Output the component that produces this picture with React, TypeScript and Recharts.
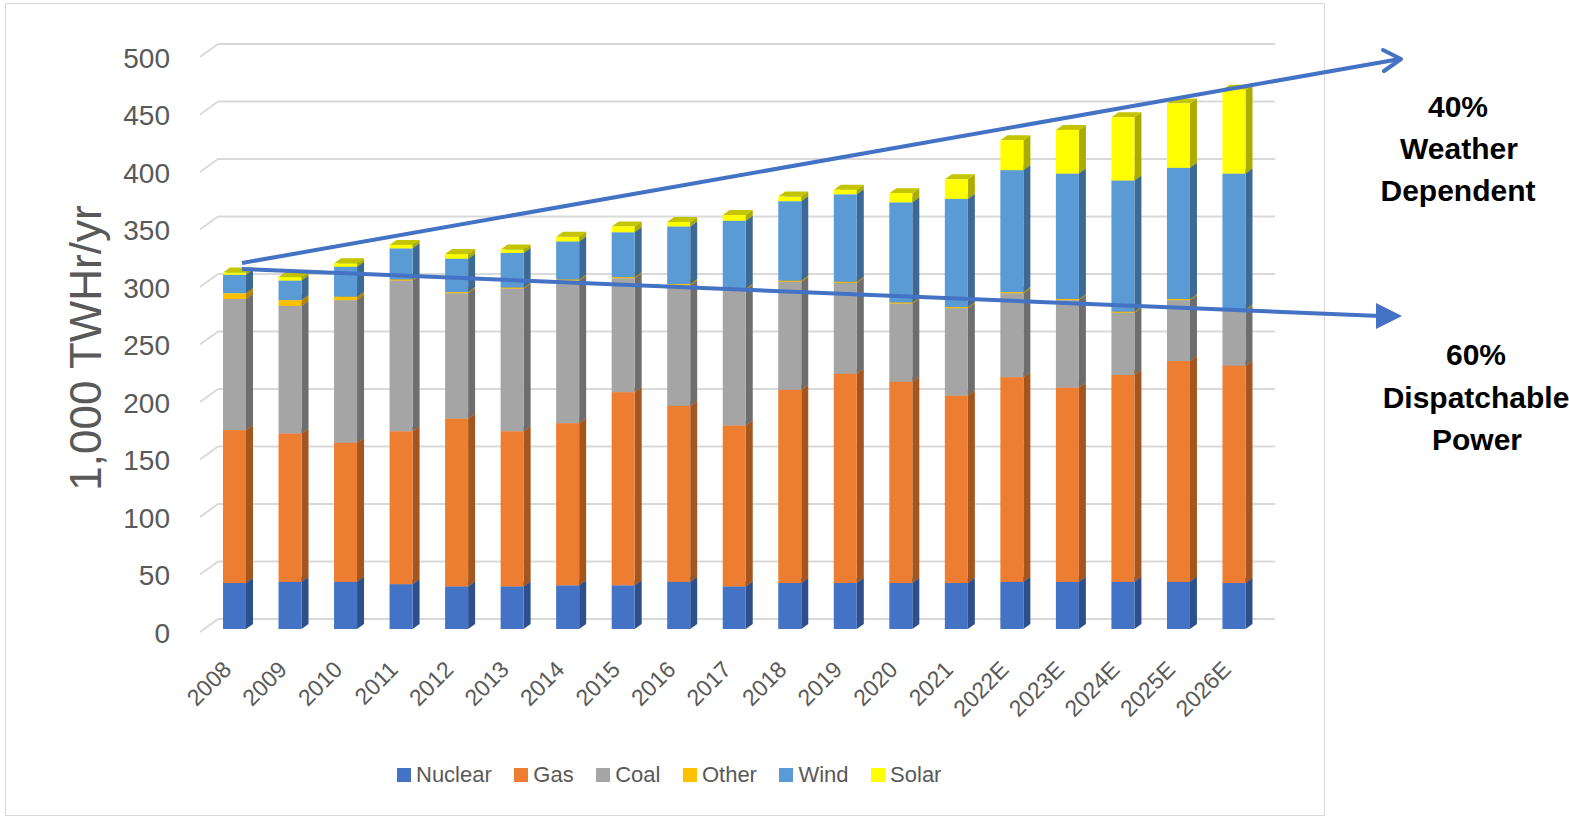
import React from "react";
import { BarChart, Bar, XAxis, YAxis, CartesianGrid } from "recharts";

const years = [
  "2008", "2009", "2010", "2011", "2012", "2013", "2014", "2015", "2016", "2017",
  "2018", "2019", "2020", "2021", "2022E", "2023E", "2024E", "2025E", "2026E",
];
const nuclear = [40, 41, 41, 39, 37, 37, 38, 38, 41, 37, 40, 40, 40, 40, 41, 41, 41, 41, 40];
const gas = [133, 129, 121, 133, 146, 135, 141, 168, 153, 140, 168, 182, 175, 163, 178, 169, 180, 192, 189];
const coal = [114, 111, 124, 131, 109, 124, 124, 99, 105, 118, 94, 79, 68, 76, 73, 76, 54, 53, 48];
const other = [5, 5, 3, 1, 1, 1, 1, 1, 1, 1, 1, 1, 1, 1, 1, 1, 1, 1, 1];
const wind = [16, 17, 26, 27, 29, 30, 33, 39, 50, 59, 69, 76, 87, 94, 106, 109, 114, 114, 118];
const solar = [2, 3, 3, 3, 4, 3, 4, 5, 4, 5, 4, 4, 8, 17, 26, 38, 55, 56, 73];

const yTicks = [0, 50, 100, 150, 200, 250, 300, 350, 400, 450, 500];

const series = [
  { key: "nuclear", name: "Nuclear", face: "#4472C4", side: "#2D4F8C", top: "#3A62A8" },
  { key: "gas", name: "Gas", face: "#ED7D31", side: "#A5561F", top: "#C86828" },
  { key: "coal", name: "Coal", face: "#A5A5A5", side: "#6E6E6E", top: "#8A8A8A" },
  { key: "other", name: "Other", face: "#FFC000", side: "#B38600", top: "#D9A300" },
  { key: "wind", name: "Wind", face: "#5B9BD5", side: "#3C6A94", top: "#4C84B6" },
  { key: "solar", name: "Solar", face: "#FFFF00", side: "#ABAB00", top: "#C4C400" },
];

const data = years.map((year, i) => ({
  year,
  nuclear: nuclear[i],
  gas: gas[i],
  coal: coal[i],
  other: other[i],
  wind: wind[i],
  solar: solar[i],
}));

const FONT = "'Liberation Sans', Arial, sans-serif";
const AXIS_GRAY = "#595959";
const ARROW = "#4472C4";

// depth of the fake 3D extrusion
const DX = 7;
const DY = -5;

function Box3D(props: any) {
  const { x, y, width, height, face, side, top } = props;
  if (x == null || y == null || !width) return null;
  const h = Math.max(height || 0, 0);
  return (
    <g>
      <polygon
        points={`${x + width},${y + h} ${x + width + DX},${y + h + DY} ${x + width + DX},${y + DY} ${x + width},${y}`}
        fill={side}
      />
      <polygon
        points={`${x},${y} ${x + width},${y} ${x + width + DX},${y + DY} ${x + DX},${y + DY}`}
        fill={top}
      />
      <rect x={x} y={y} width={width} height={h} fill={face} />
    </g>
  );
}

// back-wall gridline with the short diagonal on the side wall
function GridLine(props: any) {
  const { x1, x2, y1, index } = props;
  return (
    <g key={`grid-${index}`}>
      <line x1={x1 - 7} y1={y1 + 3} x2={x1 + 11} y2={y1 - 10} stroke="#D9D9D9" strokeWidth={2} />
      <line x1={x1 + 11} y1={y1 - 10} x2={x2 + 13} y2={y1 - 10} stroke="#D9D9D9" strokeWidth={2} />
    </g>
  );
}

function YTick(props: any) {
  const { y, payload } = props;
  return (
    <text x={170} y={y + 4} dy="0.35em" textAnchor="end" fontSize={28} fill={AXIS_GRAY} fontFamily={FONT}>
      {payload.value}
    </text>
  );
}

function XTick(props: any) {
  const { x, y, payload } = props;
  const tx = x - 2;
  const ty = y + 34;
  return (
    <text
      x={tx}
      y={ty}
      textAnchor="end"
      transform={`rotate(-45 ${tx} ${ty})`}
      fontSize={23}
      fill={AXIS_GRAY}
      fontFamily={FONT}
    >
      {payload.value}
    </text>
  );
}

function LegendRow() {
  return (
    <div
      style={{
        position: "absolute",
        left: 397,
        top: 762,
        height: 26,
        display: "flex",
        alignItems: "center",
        gap: 22.5,
        fontFamily: FONT,
        fontSize: 22,
        color: AXIS_GRAY,
      }}
    >
      {series.map((s) => (
        <div key={s.key} style={{ display: "flex", alignItems: "center", gap: 5 }}>
          <span style={{ width: 14, height: 14, background: s.face, display: "inline-block" }} />
          <span>{s.name}</span>
        </div>
      ))}
    </div>
  );
}

function Annotations() {
  return (
    <svg
      width={1569}
      height={817}
      style={{ position: "absolute", left: 0, top: 0, pointerEvents: "none" }}
    >
      {/* upper trend arrow, open head */}
      <line x1={242} y1={263} x2={1400} y2={59} stroke={ARROW} strokeWidth={4} />
      <polyline
        points="1383,50 1401,59 1384,71"
        fill="none"
        stroke={ARROW}
        strokeWidth={4}
        strokeLinecap="round"
        strokeLinejoin="round"
      />
      {/* lower trend arrow, filled head */}
      <line x1={242} y1={269} x2={1380} y2={316} stroke={ARROW} strokeWidth={4} />
      <polygon points="1402,316 1376,303 1376,329" fill={ARROW} />

      <g fontFamily={FONT} fontWeight="bold" fontSize={30} fill="#000" textAnchor="middle">
        <text x={1458} y={117}>40%</text>
        <text x={1459} y={159}>Weather</text>
        <text x={1458} y={201}>Dependent</text>
        <text x={1476} y={365}>60%</text>
        <text x={1476} y={408}>Dispatchable</text>
        <text x={1477} y={450}>Power</text>
      </g>
    </svg>
  );
}

export default function App() {
  return (
    <div style={{ position: "absolute", left: 0, top: 0, width: 1569, height: 817, background: "#fff" }}>
      <div
        style={{
          position: "absolute",
          left: 5,
          top: 3,
          width: 1318,
          height: 811,
          border: "1px solid #D9D9D9",
        }}
      />
      <div style={{ position: "absolute", left: 0, top: 0 }}>
        <BarChart
          width={1569}
          height={817}
          data={data}
          margin={{ top: 54, right: 307, bottom: 148, left: 147 }}
        >
          <CartesianGrid vertical={false} horizontal={(p: any) => <GridLine {...p} />} />
          <XAxis dataKey="year" axisLine={false} tickLine={false} height={40} interval={0} tick={<XTick />} />
          <YAxis
            domain={[0, 500]}
            ticks={yTicks}
            width={60}
            axisLine={false}
            tickLine={false}
            tick={<YTick />}
          />
          {series.map((s) => (
            <Bar
              key={s.key}
              dataKey={s.key}
              name={s.name}
              stackId="gen"
              barSize={23}
              fill={s.face}
              isAnimationActive={false}
              shape={(p: any) => <Box3D {...p} face={s.face} side={s.side} top={s.top} />}
            />
          ))}
        </BarChart>
      </div>
      <div
        style={{
          position: "absolute",
          left: 86,
          top: 348,
          transform: "translate(-50%, -50%) rotate(-90deg)",
          fontFamily: FONT,
          fontSize: 44,
          color: AXIS_GRAY,
          whiteSpace: "nowrap",
        }}
      >
        1,000 TWHr/yr
      </div>
      <LegendRow />
      <Annotations />
    </div>
  );
}
